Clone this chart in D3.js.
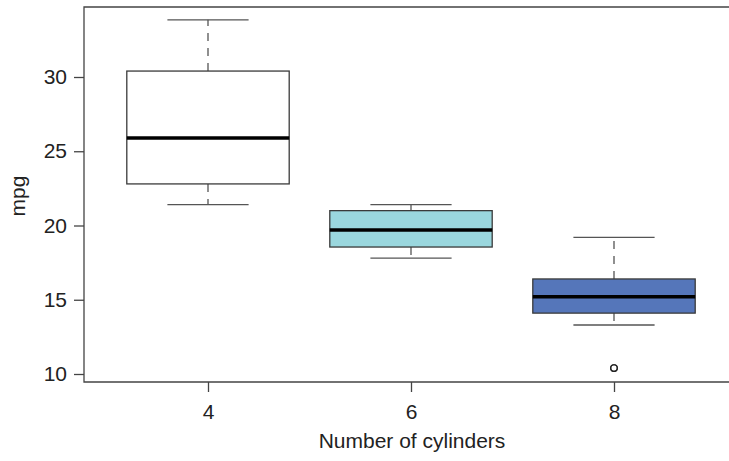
<!DOCTYPE html>
<html>
<head>
<meta charset="utf-8">
<script src="https://cdn.jsdelivr.net/npm/d3@7"></script>
<style>
  body { margin: 0; background: #fff; overflow: hidden; }
  text { font-family: "Liberation Sans", Arial, sans-serif; fill: #222; }
</style>
</head>
<body>
<script>
const width = 729,
      height = 461

// boxplot stats (mpg by cylinders)
const cylinders = ['4', '6', '8']
const lowWhisker = [21.4, 17.8, 13.3]
const lowerHinge = [22.8, 18.55, 14.1]
const medians = [25.9, 19.7, 15.2]
const upperHinge = [30.4, 21.0, 16.4]
const highWhisker = [33.85, 21.4, 19.2]
const outliers = [{ cyl: '8', mpg: 10.4 }, { cyl: '8', mpg: 10.4 }]
const fills = ['#ffffff', '#9ad7de', '#5576ba']
const yTicks = [10, 15, 20, 25, 30]

const boxes = cylinders.map((c, i) => {
    return {
        cyl: c,
        pos: i + 1,
        lo: lowWhisker[i],
        q1: lowerHinge[i],
        med: medians[i],
        q3: upperHinge[i],
        hi: highWhisker[i],
        fill: fills[i]
    }
})

const x = d3.scaleLinear().domain([1, 3]).range([208, 614])
const y = d3.scaleLinear().domain([10, 30]).range([374, 77])

const plotLeft = 84, plotTop = 7, plotBottom = 382

const svg = d3.select('body').append('svg')
    .attr('width', width)
    .attr('height', height)
    .style('display', 'block')

// plot frame (right side runs off the picture)
svg.append('path')
    .attr('d', `M${width},${plotTop}H${plotLeft}V${plotBottom}H${width}`)
    .attr('fill', 'none')
    .attr('stroke', '#444')
    .attr('stroke-width', 1.3)

// y axis
const yAxis = svg.append('g')
    .attr('transform', `translate(${plotLeft},0)`)
    .call(d3.axisLeft(y).tickValues(yTicks).tickSize(10).tickPadding(7))
yAxis.select('.domain').remove()
yAxis.selectAll('line').attr('stroke', '#444').attr('stroke-width', 1.3)
yAxis.selectAll('text')
    .style('font-size', '21px')
    .style('font-family', '"Liberation Sans", Arial, sans-serif')
    .attr('fill', '#222')

// x axis
const xAxis = svg.append('g')
    .attr('transform', `translate(0,${plotBottom})`)
    .call(d3.axisBottom(x).tickValues([1, 2, 3]).tickFormat((d, i) => cylinders[i]).tickSize(10).tickPadding(12))
xAxis.select('.domain').remove()
xAxis.selectAll('line').attr('stroke', '#444').attr('stroke-width', 1.3)
xAxis.selectAll('text')
    .style('font-size', '21px')
    .style('font-family', '"Liberation Sans", Arial, sans-serif')
    .attr('fill', '#222')

// axis titles
svg.append('text')
    .attr('x', 412)
    .attr('y', 448)
    .attr('text-anchor', 'middle')
    .style('font-size', '21px')
    .text('Number of cylinders')

svg.append('text')
    .attr('transform', 'translate(25,196) rotate(-90)')
    .attr('text-anchor', 'middle')
    .style('font-size', '21px')
    .text('mpg')

const unit = x(2) - x(1)
const boxHalf = unit * 0.4
const stapleHalf = unit * 0.2

const g = svg.selectAll('.box')
    .data(boxes)
    .enter()
    .append('g')
    .attr('class', 'box')

// whiskers
g.append('line')
    .attr('x1', d => x(d.pos)).attr('x2', d => x(d.pos))
    .attr('y1', d => y(d.q3)).attr('y2', d => y(d.hi))
    .attr('stroke', '#555').attr('stroke-width', 1.3)
    .attr('stroke-dasharray', '8,7')
g.append('line')
    .attr('x1', d => x(d.pos)).attr('x2', d => x(d.pos))
    .attr('y1', d => y(d.q1)).attr('y2', d => y(d.lo))
    .attr('stroke', '#555').attr('stroke-width', 1.3)
    .attr('stroke-dasharray', '8,7')

// staples
g.append('line')
    .attr('x1', d => x(d.pos) - stapleHalf).attr('x2', d => x(d.pos) + stapleHalf)
    .attr('y1', d => y(d.hi)).attr('y2', d => y(d.hi))
    .attr('stroke', '#555').attr('stroke-width', 1.3)
g.append('line')
    .attr('x1', d => x(d.pos) - stapleHalf).attr('x2', d => x(d.pos) + stapleHalf)
    .attr('y1', d => y(d.lo)).attr('y2', d => y(d.lo))
    .attr('stroke', '#555').attr('stroke-width', 1.3)

// box
g.append('rect')
    .attr('x', d => x(d.pos) - boxHalf)
    .attr('width', boxHalf * 2)
    .attr('y', d => y(d.q3))
    .attr('height', d => y(d.q1) - y(d.q3))
    .attr('fill', d => d.fill)
    .attr('stroke', '#3a3a3a')
    .attr('stroke-width', 1.3)

// median
g.append('line')
    .attr('x1', d => x(d.pos) - boxHalf).attr('x2', d => x(d.pos) + boxHalf)
    .attr('y1', d => y(d.med)).attr('y2', d => y(d.med))
    .attr('stroke', '#000').attr('stroke-width', 3.5)

// outliers
svg.selectAll('.outlier')
    .data(outliers)
    .enter()
    .append('circle')
    .attr('class', 'outlier')
    .attr('cx', d => x(cylinders.indexOf(d.cyl) + 1))
    .attr('cy', d => y(d.mpg))
    .attr('r', 3.3)
    .attr('fill', 'none')
    .attr('stroke', '#222')
    .attr('stroke-width', 1.2)
</script>
</body>
</html>
